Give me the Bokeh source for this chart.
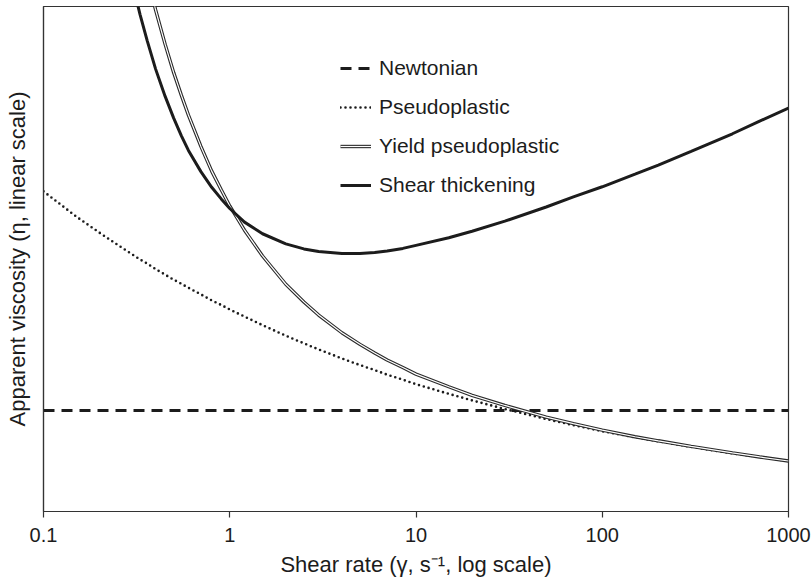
from bokeh.plotting import figure
from bokeh.models import Range1d, FixedTicker, Legend, LegendItem
from bokeh.embed import file_html
from bokeh.resources import INLINE

NaN = float("nan")

# ---- data ----
shear_rate = [0.1, 0.15, 0.2, 0.25, 0.3, 0.33, 0.36, 0.4, 0.45, 0.5, 0.55, 0.6,
              0.7, 0.8, 0.9, 1, 1.2, 1.5, 2, 2.5, 3, 4, 5, 6,
              7, 8.5, 10, 15, 20, 30, 50, 70, 100, 150, 200, 300,
              500, 700, 1000]

newtonian_level = 20.0

pseudoplastic = [63.4, 58.4, 55.2, 52.8, 50.9, 49.9, 49.1, 48.0, 46.9, 45.9, 45.1, 44.3,
                 43.0, 41.8, 40.9, 40.0, 38.6, 36.9, 34.8, 33.3, 32.1, 30.3, 29.0, 28.0,
                 27.1, 26.1, 25.2, 23.3, 22.0, 20.3, 18.3, 17.1, 15.9, 14.7, 13.9, 12.8,
                 11.5, 10.8, 10.0]

yield_pseudoplastic = [NaN, NaN, NaN, NaN, 119.2, 112.0, 106.0, 99.3, 92.5, 86.9, 82.4, 78.5,
                       72.3, 67.4, 63.7, 60.5, 55.7, 50.6, 45.0, 41.5, 38.9, 35.4, 33.1, 31.4,
                       30.0, 28.5, 27.2, 24.7, 23.0, 21.0, 18.7, 17.4, 16.1, 14.8, 14.0, 12.9,
                       11.6, 10.8, 10.0]

shear_thickening = [NaN, NaN, NaN, NaN, 104.6, 98.4, 93.3, 87.6, 82.2, 77.9, 74.4, 71.5,
                    67.3, 64.2, 61.9, 60.0, 57.3, 55.0, 53.0, 52.0, 51.5, 51.1, 51.1, 51.3,
                    51.6, 52.1, 52.7, 54.2, 55.5, 57.5, 60.3, 62.3, 64.3, 66.8, 68.6, 71.3,
                    74.8, 77.3, 79.9]

tick_values = [0.1, 1, 10, 100, 1000]
tick_labels = ["0.1", "1", "10", "100", "1000"]

series_names = ["Newtonian", "Pseudoplastic", "Yield pseudoplastic", "Shear thickening"]

x_label = "Shear rate (γ, s⁻¹, log scale)"
y_label = "Apparent viscosity (η, linear scale)"

FONT = "Liberation Sans"
INK = "#1c1c1c"
AX = "#333333"

p = figure(width=811, height=583, x_axis_type="log",
           x_range=Range1d(0.1, 1000), y_range=Range1d(0, 100),
           output_backend="svg", toolbar_location=None,
           min_border_left=43, min_border_right=23,
           min_border_top=6, min_border_bottom=72)

p.xgrid.grid_line_color = None
p.ygrid.grid_line_color = None
p.outline_line_color = AX
p.outline_line_width = 1.2
p.background_fill_color = "white"
p.border_fill_color = "white"

# x axis
xa = p.xaxis[0]
xa.ticker = FixedTicker(ticks=tick_values)
xa.major_label_overrides = {v: s for v, s in zip(tick_values, tick_labels)}
xa.minor_tick_line_color = None
xa.major_tick_in = 0
xa.major_tick_out = 6
xa.major_tick_line_color = AX
xa.major_tick_line_width = 1.2
xa.axis_line_color = AX
xa.axis_line_width = 1.2
xa.major_label_text_font = FONT
xa.major_label_text_font_size = "20px"
xa.major_label_text_color = INK
xa.major_label_standoff = 10
xa.axis_label = x_label
xa.axis_label_text_font = FONT
xa.axis_label_text_font_size = "22px"
xa.axis_label_text_font_style = "normal"
xa.axis_label_text_color = INK
xa.axis_label_standoff = 7

# y axis
ya = p.yaxis[0]
ya.ticker = FixedTicker(ticks=[])
ya.minor_tick_line_color = None
ya.major_tick_in = 0
ya.major_tick_out = 0
ya.major_label_standoff = 0
ya.axis_line_color = AX
ya.axis_line_width = 1.2
ya.axis_label = y_label
ya.axis_label_text_font = FONT
ya.axis_label_text_font_size = "22px"
ya.axis_label_text_font_style = "normal"
ya.axis_label_text_color = INK
ya.axis_label_standoff = 14

newtonian = [newtonian_level for _ in shear_rate]

r_newt = p.line(shear_rate, newtonian, line_color=INK, line_width=3, line_dash="11 7")
r_pseudo = p.line(shear_rate, pseudoplastic, line_color=INK, line_width=2.6,
                  line_dash="0 5", line_cap="round")
r_yield_o = p.line(shear_rate, yield_pseudoplastic, line_color="#2a2a2a", line_width=3.4)
r_yield_i = p.line(shear_rate, yield_pseudoplastic, line_color="white", line_width=1.2)
r_thick = p.line(shear_rate, shear_thickening, line_color=INK, line_width=3)

legend = Legend(items=[
    LegendItem(label=series_names[0], renderers=[r_newt]),
    LegendItem(label=series_names[1], renderers=[r_pseudo]),
    LegendItem(label=series_names[2], renderers=[r_yield_o, r_yield_i]),
    LegendItem(label=series_names[3], renderers=[r_thick]),
], location=(297, 314))
legend.padding = 0
legend.margin = 0
legend.border_line_color = None
legend.background_fill_alpha = 0
legend.glyph_width = 31
legend.glyph_height = 20
legend.label_height = 20
legend.label_standoff = 8
legend.spacing = 15
legend.label_text_font = FONT
legend.label_text_font_size = "21px"
legend.label_text_color = INK
p.add_layout(legend, "center")

open("out.html", "w").write(file_html(p, INLINE))
